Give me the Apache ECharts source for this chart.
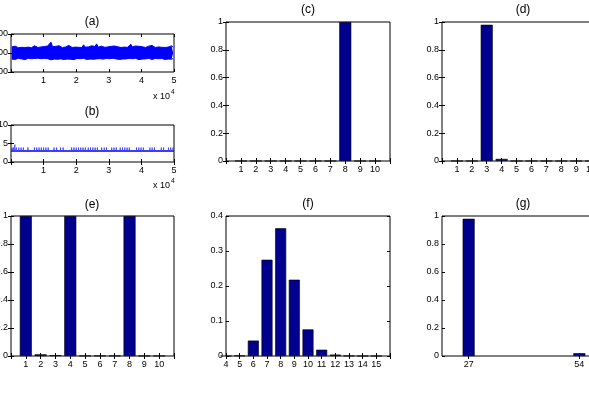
<!DOCTYPE html>
<html><head><meta charset="utf-8">
<script src="https://cdn.jsdelivr.net/npm/echarts@6/dist/echarts.min.js"></script>
<style>html,body{margin:0;padding:0;background:#fff}#c{width:589px;height:393px}</style>
</head><body><div id="c"></div>
<script>
// ---------- data ----------
// (a) signal envelope per bin (100 bins over 0..5 x10^4 samples)
const aUpper = [232,229,236,231,228,234,230,237,229,233,
  231,235,228,233,238,230,229,236,232,231,
  234,229,237,241,257,233,230,235,229,238,
  231,228,236,232,230,240,233,229,235,231,
  237,230,233,229,243,231,236,232,229,238,
  230,234,248,231,229,236,233,230,239,232,
  229,235,231,237,230,233,242,229,234,231,
  236,230,233,246,232,229,237,231,235,230,
  233,238,229,232,236,230,240,231,229,235,
  232,237,230,234,229,236,231,233,238,230];
const aLower = [168,171,166,170,172,167,169,171,165,170,
  172,168,170,166,171,169,173,167,170,168,
  171,166,170,169,164,171,168,172,167,170,
  169,171,166,170,168,172,167,170,165,169,
  171,168,170,167,172,169,166,171,168,170,
  167,171,169,165,170,172,168,166,171,169,
  170,167,172,168,169,171,166,170,168,172,
  169,166,171,168,170,167,172,169,165,170,
  168,171,169,167,172,170,166,169,171,168,
  170,167,171,169,166,172,168,170,167,171];
const aCenter = 200;
const aYTicks = [100, 200, 300];
const xTicksA = [1, 2, 3, 4, 5];
// (b) baseline level and event positions (x10^4) with their levels
const bBaseline = 3;
const bEventX = [0.03,0.08,0.12,0.17,0.24,0.31,0.38,0.52,
  0.72,0.79,0.86,0.93,1.00,1.07,1.14,1.32,1.40,
  1.52,1.60,1.86,1.93,2.00,2.07,2.14,2.21,2.28,
  2.37,2.44,2.51,2.58,2.65,2.78,2.86,2.93,
  3.09,3.16,3.23,3.35,3.42,3.49,3.56,3.63,
  3.85,3.92,3.99,4.06,4.26,4.33,4.40,4.61,4.68,
  4.83,4.90,4.97];
const bEventY = bEventX.map(x => x === 0.12 ? 4.7 : 3.9);
const bYTicks = [0, 5, 10];
// (c)
const cCats = [1,2,3,4,5,6,7,8,9,10];
const cVals = [0,0,0,0,0,0,0,1,0,0];
// (d)
const dCats = [1,2,3,4,5,6,7,8,9,10];
const dVals = [0,0,0.98,0.015,0,0,0,0,0,0];
// (e)
const eCats = [1,2,3,4,5,6,7,8,9,10];
const eVals = [1,0.012,0.006,1,0.002,0.002,0.002,1,0.001,0.001];
// (f)
const fCats = [4,5,6,7,8,9,10,11,12,13,14,15];
const fVals = [0,0.001,0.044,0.275,0.365,0.218,0.076,0.018,0.004,0.0005,0,0];
// (g)
const gCats = [27, 54];
const gVals = [0.98, 0.02];

// ---------- layout / style ----------
const FONT = '"Liberation Sans", Arial, Helvetica, sans-serif';
const LBL_SIZE = 9;
const BAR_COLOR = '#00008f';
const LINE_COLOR = '#0000ff';

const grids = [], xAxes = [], yAxes = [], series = [];

function tickCfg(custom) {
  const t = {show:true, inside:true, length:3, lineStyle:{color:'#000', width:1}};
  if (custom) t.customValues = custom;
  return t;
}
function labelCfg(show, opts) {
  return Object.assign({show:show, color:'#000', fontSize:LBL_SIZE, fontFamily:FONT}, opts || {});
}

function addPanel(box, xa, ya) {
  const gi = grids.length;
  grids.push({left:box[0], top:box[1], width:box[2], height:box[3], show:true,
    containLabel:false, outerBoundsMode:'none',
    borderColor:'#000', borderWidth:1, backgroundColor:'#fff'});
  const mk = (a, pos, showLbl, isX) => {
    const o = {type:'value', gridIndex:gi, position:pos, min:a.min, max:a.max,
      splitLine:{show:false}, axisLine:{show:false},
      axisTick: tickCfg(a.customTicks),
      axisLabel: labelCfg(showLbl, {margin: isX ? 4 : 3, hideOverlap:false})};
    if (a.interval) o.interval = a.interval;
    if (showLbl && a.customLabels) o.axisLabel.customValues = a.customLabels;
    if (showLbl && a.labels) o.axisLabel.formatter = v => (a.labels.some(l => Math.abs(l - v) < 1e-9) ? String(+v.toFixed(4)) : '');
    return o;
  };
  xAxes.push(mk(xa, 'bottom', true, true));
  xAxes.push(mk(xa, 'top', false, true));
  yAxes.push(mk(ya, 'left', true, false));
  yAxes.push(mk(ya, 'right', false, false));
  return 2 * gi;
}

// (a)
const ia = addPanel([11, 34, 163, 38], {min:0, max:5, interval:1, labels:xTicksA}, {min:100, max:300, interval:100, labels:aYTicks});
const binX = i => (i + 0.5) * 0.05;
[aUpper, aLower].forEach(arr => {
  series.push({type:'line', xAxisIndex:ia, yAxisIndex:ia, symbol:'none', silent:true, animation:false,
    data:arr.map((v, i) => [binX(i), v]),
    lineStyle:{color:LINE_COLOR, width:1},
    areaStyle:{color:LINE_COLOR, opacity:1, origin:aCenter}});
});

// (b)
const ib = addPanel([11, 125, 163, 37], {min:0, max:5, interval:1, labels:xTicksA}, {min:0, max:10, interval:5, labels:bYTicks});
series.push({type:'line', xAxisIndex:ib, yAxisIndex:ib, data:[[0, bBaseline], [5, bBaseline]], symbol:'none', silent:true,
  lineStyle:{color:LINE_COLOR, width:1.5}, animation:false});
const bData = [];
bEventX.forEach((x, i) => { bData.push([x, bBaseline]); bData.push([x, bEventY[i]]); bData.push([x, bBaseline]); });
series.push({type:'line', xAxisIndex:ib, yAxisIndex:ib, data:bData, symbol:'none', silent:true,
  lineStyle:{color:'#3a3aff', width:0.8}, animation:false});

function barSeries(idx, cats, vals, w) {
  series.push({type:'bar', xAxisIndex:idx, yAxisIndex:idx, barWidth:w, silent:true, animation:false,
    data:cats.map((c, i) => [c, vals[i]]),
    itemStyle:{color:BAR_COLOR, borderColor:'#000', borderWidth:0.6}});
}
const unitY = {min:0, max:1, interval:0.2, labels:[0,0.2,0.4,0.6,0.8,1]};
// (c)
const ic = addPanel([226, 22, 164, 139], {min:0, max:11, interval:1, labels:cCats}, unitY);
barSeries(ic, cCats, cVals, 12);
// (d)
const id = addPanel([442, 22, 164, 139], {min:0, max:11, interval:1, labels:dCats}, unitY);
barSeries(id, dCats, dVals, 12);
// (e)
const ie = addPanel([11, 216, 163, 140], {min:0, max:11, interval:1, labels:eCats}, unitY);
barSeries(ie, eCats, eVals, 12);
// (f)
const iff = addPanel([226, 216, 164, 140], {min:4, max:16, interval:1, labels:fCats}, {min:0, max:0.4, interval:0.1, labels:[0,0.1,0.2,0.3,0.4]});
barSeries(iff, fCats, fVals, 11);
// (g)
const ig = addPanel([442, 216, 164, 140], {min:20.5, max:60.5, customTicks:gCats, customLabels:gCats}, unitY);
barSeries(ig, gCats, gVals, 12);

function txt(x, y, s, size, align) {
  return {type:'text', x:x, y:y, silent:true,
    style:{text:s, fill:'#000', fontSize:size, fontFamily:FONT, align:align || 'center', verticalAlign:'middle'}};
}
const graphics = [
  txt(92, 22, '(a)', 12), txt(92, 112, '(b)', 12),
  txt(308, 10, '(c)', 12), txt(523, 10, '(d)', 12),
  txt(92, 205, '(e)', 12), txt(308, 204, '(f)', 12), txt(523, 204, '(g)', 12),
  txt(170, 97, 'x 10', 9, 'right'), txt(171, 92, '4', 6.5, 'left'),
  txt(170, 186, 'x 10', 9, 'right'), txt(171, 181, '4', 6.5, 'left')
];

const chart = echarts.init(document.getElementById('c'), null, {renderer:'canvas'});
chart.setOption({
  animation:false,
  backgroundColor:'#fff',
  grid:grids, xAxis:xAxes, yAxis:yAxes, series:series, graphic:graphics
});
</script></body></html>
